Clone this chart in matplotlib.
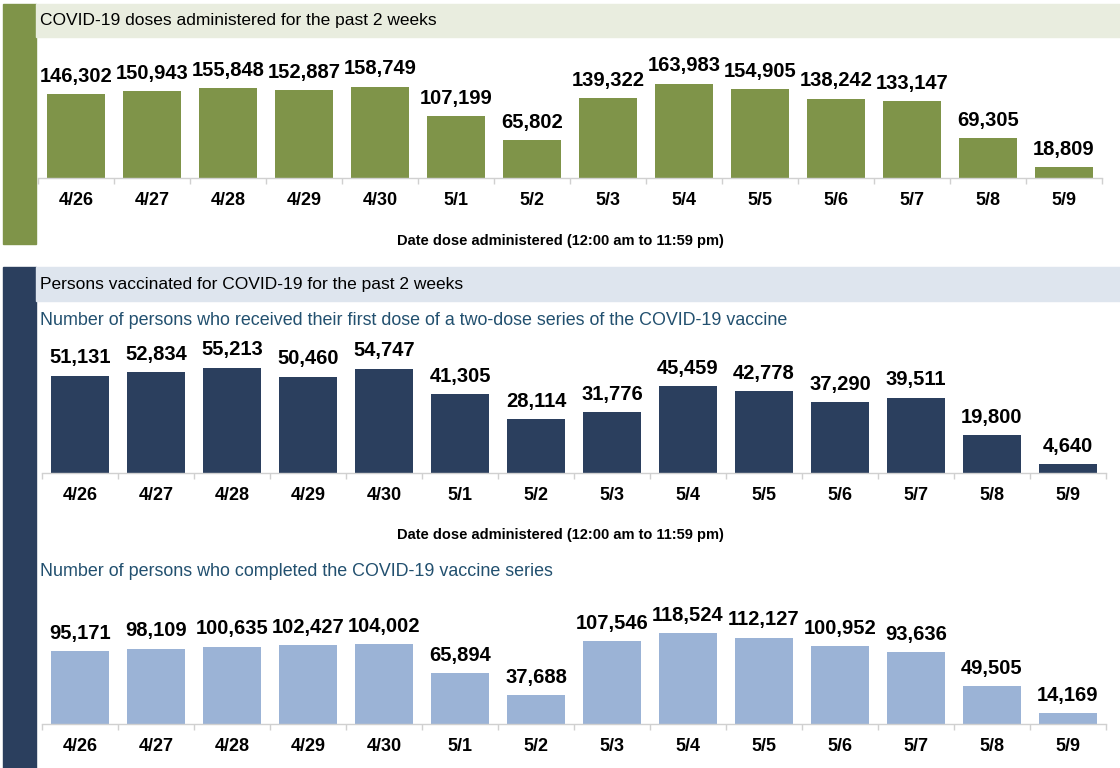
import matplotlib
matplotlib.use("Agg")
import matplotlib.pyplot as plt
from matplotlib.patches import Rectangle

# ---------------------------------------------------------------------------
# Data
# ---------------------------------------------------------------------------
dates = ["4/26", "4/27", "4/28", "4/29", "4/30", "5/1", "5/2",
         "5/3", "5/4", "5/5", "5/6", "5/7", "5/8", "5/9"]
doses = [146302, 150943, 155848, 152887, 158749, 107199, 65802,
         139322, 163983, 154905, 138242, 133147, 69305, 18809]
first_dose = [51131, 52834, 55213, 50460, 54747, 41305, 28114,
              31776, 45459, 42778, 37290, 39511, 19800, 4640]
completed = [95171, 98109, 100635, 102427, 104002, 65894, 37688,
             107546, 118524, 112127, 100952, 93636, 49505, 14169]

title_doses = "COVID-19 doses administered for the past 2 weeks"
title_persons = "Persons vaccinated for COVID-19 for the past 2 weeks"
sub_first = ("Number of persons who received their first dose of a "
             "two-dose series of the COVID-19 vaccine")
sub_completed = "Number of persons who completed the COVID-19 vaccine series"
xlabel = "Date dose administered (12:00 am to 11:59 pm)"

GREEN = "#7f9449"
NAVY = "#2b3f5e"
LIGHTBLUE = "#9bb3d6"
GREEN_BAND = "#e9eddf"
BLUE_BAND = "#dee5ee"
SUB_COLOR = "#22506f"
AXIS_GRAY = "#d0d0d0"

plt.rcParams["font.family"] = ["Liberation Sans", "DejaVu Sans"]

W, H = 1120, 768
fig = plt.figure(figsize=(W / 100, H / 100), dpi=100)


def fx(x):
    return x / W


def fy(y):
    return 1 - y / H


def rect(x0, y0, x1, y1, color):
    fig.patches.append(Rectangle((fx(x0), fy(y1)), fx(x1 - x0), (y1 - y0) / H,
                                 transform=fig.transFigure, color=color,
                                 zorder=0))


def bar_panel(x0, y0, x1, y1, values, color, ymax):
    ax = fig.add_axes([fx(x0), fy(y1), fx(x1 - x0), (y1 - y0) / H])
    xs = range(len(values))
    bars = ax.bar(xs, values, width=0.77, color=color)
    ax.bar_label(bars, labels=[f"{v:,}" for v in values], padding=6,
                 fontsize=14.5, fontweight="bold")
    ax.set_xlim(-0.5, len(values) - 0.5)
    ax.set_ylim(0, ymax)
    ax.set_yticks([])
    ax.set_xticks(list(xs))
    ax.set_xticklabels(dates, fontsize=13, fontweight="bold")
    ax.set_xticks([i - 0.5 for i in range(len(values) + 1)], minor=True)
    ax.tick_params(axis="x", which="major", length=0, pad=10)
    ax.tick_params(axis="x", which="minor", length=4, color=AXIS_GRAY,
                   width=1)
    for s in ["top", "right", "left"]:
        ax.spines[s].set_visible(False)
    ax.spines["bottom"].set_color(AXIS_GRAY)
    ax.spines["bottom"].set_linewidth(1)
    ax.patch.set_alpha(0)
    return ax


# Section backgrounds
rect(3, 4, 36, 244, GREEN)
rect(36, 4, 1120, 37, GREEN_BAND)
rect(3, 267, 36, 768, NAVY)
rect(36, 267, 1120, 301, BLUE_BAND)

fig.text(fx(40), fy(20.5), title_doses, fontsize=12.5, va="center")
fig.text(fx(40), fy(284), title_persons, fontsize=12.5, va="center")
fig.text(fx(40), fy(320), sub_first, fontsize=12.9, va="center",
         color=SUB_COLOR)
fig.text(fx(40), fy(572), sub_completed, fontsize=12.9, va="center",
         color=SUB_COLOR)

# Panels
bar_panel(38, 40, 1102, 178, doses, GREEN, 240000)
fig.text(fx(560), fy(241), xlabel, fontsize=10.5, fontweight="bold",
         ha="center", va="center")

bar_panel(42, 330, 1106, 473, first_dose, NAVY, 75000)
fig.text(fx(560), fy(535), xlabel, fontsize=10.5, fontweight="bold",
         ha="center", va="center")

bar_panel(42, 601, 1106, 724, completed, LIGHTBLUE, 160000)

fig.savefig("out.png", dpi=100)
